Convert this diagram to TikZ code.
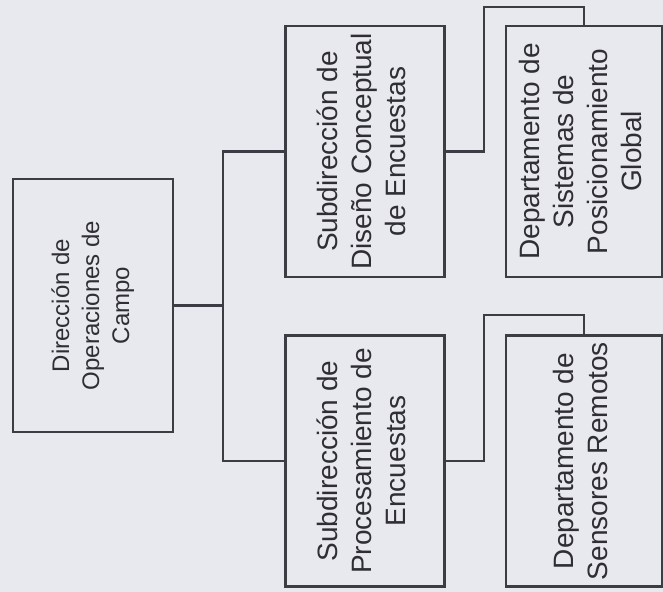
\documentclass[tikz,border=0pt]{standalone}
\usepackage{fontspec}
\setmainfont{Liberation Sans}
\usepackage{graphicx}
\usepackage{tikz}
\definecolor{fondo}{HTML}{E8E8EF}
\definecolor{linea}{HTML}{3C3C44}
\definecolor{letra}{HTML}{2E2E34}
\tikzset{
	caja/.style={draw=linea,line width=1.4pt,text=letra,inner sep=0pt,minimum width=79.5pt,minimum height=125.5pt},
	cajadir/.style={caja,minimum width=80pt,minimum height=126.5pt,font=\fontsize{12}{15}\selectfont},
	cajasub/.style={caja,font=\fontsize{14}{17}\selectfont},
	cajadep/.style={caja,minimum width=78pt,font=\fontsize{14}{17}\selectfont},
	liga/.style={draw=linea,line width=1.4pt}
}
\newcommand{\vertical}[1]{\rotatebox{90}{\begin{tabular}{@{}c@{}}#1\end{tabular}}}
\begin{document}
\begin{tikzpicture}[x=0.5pt,y=-0.5pt]
		\fill[fondo] (0,0) rectangle (663,592);
		\useasboundingbox (0,0) rectangle (663,592);
		\node[cajadir] (dir) at (93,305.5) {\vertical{Dirección de\\Operaciones de\\Campo}};
		\node[cajasub] (subA) at (365,151.5) {\vertical{Subdirección de\\Diseño Conceptual\\de Encuestas}};
		\node[cajasub] (subB) at (365,461) {\vertical{Subdirección de\\Procesamiento de\\Encuestas}};
		\node[cajadep] (depA) at (584,151.5) {\vertical{Departamento de\\Sistemas de\\Posicionamiento\\Global}};
		\node[cajadep] (depB) at (584,461) {\vertical{Departamento de\\Sensores Remotos}};
		\coordinate (bus) at (223,305.5);
		\coordinate (jogA) at (484,7);
		\coordinate (jogB) at (484,315);
		\path[liga]
		(dir.east) -- (bus)
		(subA.west) -| (bus) |- (subB.west)
		(subA.east) -| (jogA) -| (depA.north)
		(subB.east) -| (jogB) -| (depB.north);
		\end{tikzpicture}
\end{document}
